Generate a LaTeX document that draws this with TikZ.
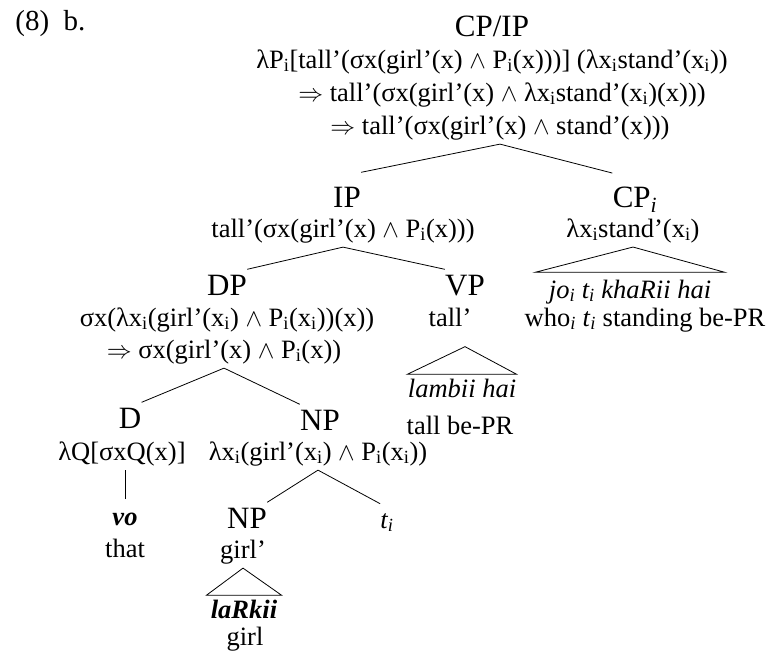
\documentclass[tikz,border=0pt]{standalone}
\usepackage{fontspec}
\setmainfont{Liberation Serif}

\newcommand{\subi}{\textsubscript{i}}
\newcommand{\subit}{\textsubscript{\itshape i}}
\newcommand{\Conj}{$\wedge$}
\newcommand{\Imp}{$\Rightarrow$}

\tikzset{
	cat/.style={font=\fontsize{31}{36}\selectfont, anchor=base, inner xsep=0pt, inner ysep=5pt},
	sem/.style={font=\fontsize{26.5}{32}\selectfont, anchor=base, inner sep=4pt},
	word/.style={font=\fontsize{26.5}{32}\selectfont\itshape, anchor=base, inner xsep=0pt, inner ysep=4pt},
	gloss/.style={font=\fontsize{26.5}{32}\selectfont, anchor=base, inner sep=0pt}
}

\begin{document}
\begin{tikzpicture}[x=1pt, y=-1pt, line width=0.8pt]
		\useasboundingbox (0, 0) rectangle (770, 653);
		\node[gloss, anchor=base west, font=\fontsize{29}{34}\selectfont] (ex) at (15, 30) {(8)\ \ b.};
		\node[cat] (cpip) at (492, 36) {CP/IP};
		\node[sem] (l1) at (492, 68) {λP\subi[tall’(σx(girl’(x) \Conj{} P\subi(x)))] (λx\subi stand’(x\subi))};
		\node[sem] (l2) at (502, 101) {\Imp{} tall’(σx(girl’(x) \Conj{} λx\subi stand’(x\subi)(x)))};
		\node[sem] (l3) at (500, 134) {\Imp{} tall’(σx(girl’(x) \Conj{} stand’(x)))};
		\node[cat, inner ysep=14pt] (ip) at (347, 207) {IP};
		\node[sem] (ip-sem) at (343, 237) {tall’(σx(girl’(x) \Conj{} P\subi(x)))};
		\node[cat, inner ysep=13pt] (cp) at (635, 207) {CP\subit};
		\node[sem] (cp-sem) at (633, 237) {λx\subi stand’(x\subi)};
		\draw (l3.south) -- (ip.north east);
		\draw (l3.south) -- (cp.north west);
		\node[word, inner xsep=13pt, inner ysep=7pt] (jo) at (630, 298) {jo\subit{} t\subit{} khaRii hai};
		\node[gloss] (who) at (645, 326) {who\subit{} \textit{t}\subit{} standing be-PR};
		\draw (cp-sem.south) -- (jo.north west) -- (jo.north east) -- cycle;
		\node[cat] (dp) at (227, 295) {DP};
		\node[cat] (vp) at (465, 295) {VP};
		\draw (ip-sem.south) -- (dp.north east);
		\draw (ip-sem.south) -- (vp.north west);
		\node[sem, inner ysep=20pt] (vp-sem) at (450, 326) {tall’};
		\node[word] (lambii) at (462, 397) {lambii hai};
		\node[gloss] (tallbe) at (460, 434) {tall be-PR};
		\draw (vp-sem.south -| vp.south) -- (lambii.north west) -- (lambii.north east) -- cycle;
		\node[sem] (dp-sem) at (227, 326) {σx(λx\subi(girl’(x\subi) \Conj{} P\subi(x\subi))(x))};
		\node[sem] (dp-sem2) at (224, 358) {\Imp{} σx(girl’(x) \Conj{} P\subi(x))};
		\node[cat] (d) at (130, 428) {D};
		\node[cat] (np) at (320, 430) {NP};
		\draw (dp-sem2.south) -- (d.north east);
		\draw (dp-sem2.south) -- (np.north west);
		\node[sem] (d-sem) at (122, 460) {λQ[σxQ(x)]};
		\node[word, font=\fontsize{26.5}{32}\selectfont\bfseries\itshape, inner ysep=13pt] (vo) at (125, 525) {vo};
		\node[gloss] (that) at (125, 557) {that};
		\draw (vo.north) -- (vo.north |- d-sem.south);
		\node[sem] (np-sem) at (318, 460) {λx\subi(girl’(x\subi) \Conj{} P\subi(x\subi))};
		\node[cat] (npb) at (247, 528) {NP};
		\node[word, inner ysep=9pt] (trace) at (387, 528) {t\subit};
		\draw (np-sem.south) -- (npb.north east);
		\draw (np-sem.south) -- (trace.north west);
		\node[sem] (npb-sem) at (243, 558) {girl’};
		\node[word, font=\fontsize{26.5}{32}\selectfont\bfseries\itshape, inner xsep=4pt] (larkii) at (244, 618) {laRkii};
		\node[gloss] (girl) at (245, 645) {girl};
		\draw (npb-sem.south) -- (larkii.north west) -- (larkii.north east) -- cycle;
	\end{tikzpicture}
\end{document}
